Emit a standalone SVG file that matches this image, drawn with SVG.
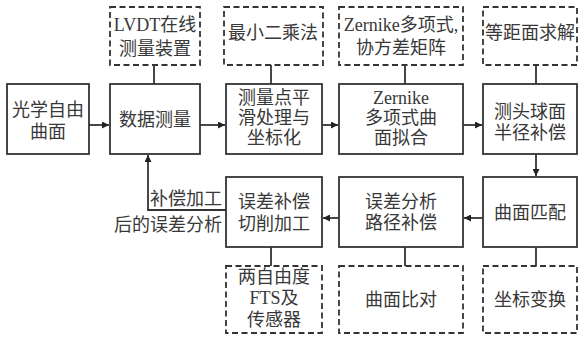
<svg xmlns="http://www.w3.org/2000/svg" width="579" height="338" viewBox="0 0 579 338">
<defs>
<style>
.box{fill:#fff;stroke:#333;stroke-width:1.8}
.dash{fill:#fff;stroke:#333;stroke-width:1.8;stroke-dasharray:6 3.5}
.ln{fill:none;stroke:#333;stroke-width:1.8}
text{font-family:"Liberation Serif","Noto Sans CJK SC",serif;font-size:18px;fill:#383838;text-anchor:middle;dominant-baseline:central}
.r{text-anchor:end}
</style>
<marker id="ah" viewBox="0 0 10 10" refX="10" refY="5" markerWidth="9" markerHeight="7" markerUnits="userSpaceOnUse" orient="auto"><path d="M0,0L10,5L0,10Z" fill="#222"/></marker>
</defs>
<rect width="579" height="338" fill="#fff"/>
<g id="connectors">
<path class="ln" d="M89,125H109" marker-end="url(#ah)"/>
<path class="ln" d="M200,125H225" marker-end="url(#ah)"/>
<path class="ln" d="M322,125H338" marker-end="url(#ah)"/>
<path class="ln" d="M463,125H482" marker-end="url(#ah)"/>
<path class="ln" d="M536,154V176" marker-end="url(#ah)"/>
<path class="ln" d="M483,218H464" marker-end="url(#ah)"/>
<path class="ln" d="M339,218H323" marker-end="url(#ah)"/>
<path class="ln" d="M226,210H148V155" marker-end="url(#ah)"/>
<path class="ln" d="M154,65V84M271,65V84M405,65V84M536,65V84"/>
<path class="ln" d="M271,247V266M405,247V266M536,247V266"/>
</g>
<g id="n1"><rect class="box" x="7" y="84" width="82" height="70"/><text x="48" y="110">光学自由</text><text x="48" y="132">曲面</text></g>
<g id="n2"><rect class="box" x="110" y="84" width="90" height="70"/><text x="155" y="120">数据测量</text></g>
<g id="n3"><rect class="box" x="226" y="84" width="96" height="70"/><text x="274" y="98">测量点平</text><text x="274" y="118">滑处理与</text><text x="274" y="138">坐标化</text></g>
<g id="n4"><rect class="box" x="339" y="84" width="124" height="70"/><text x="401" y="98">Zernike</text><text x="401" y="118">多项式曲</text><text x="401" y="138">面拟合</text></g>
<g id="n5"><rect class="box" x="483" y="84" width="94" height="70"/><text x="530" y="112">测头球面</text><text x="530" y="133">半径补偿</text></g>
<g id="d1"><rect class="dash" x="110" y="7" width="90" height="58"/><text x="155" y="25">LVDT在线</text><text x="155" y="49">测量装置</text></g>
<g id="d2"><rect class="dash" x="224" y="7" width="99" height="58"/><text x="273" y="33">最小二乘法</text></g>
<g id="d3"><rect class="dash" x="339" y="7" width="124" height="58"/><text x="401" y="25">Zernike多项式,</text><text x="401" y="48">协方差矩阵</text></g>
<g id="d4"><rect class="dash" x="483" y="7" width="94" height="58"/><text x="530" y="33">等距面求解</text></g>
<g id="n6"><rect class="box" x="226" y="177" width="96" height="70"/><text x="274" y="202">误差补偿</text><text x="274" y="224">切削加工</text></g>
<g id="n7"><rect class="box" x="339" y="177" width="124" height="70"/><text x="401" y="202">误差分析</text><text x="401" y="223">路径补偿</text></g>
<g id="n8"><rect class="box" x="483" y="177" width="94" height="70"/><text x="530" y="213">曲面匹配</text></g>
<g id="d5"><rect class="dash" x="226" y="266" width="96" height="67"/><text x="274" y="277">两自由度</text><text x="274" y="298">FTS及</text><text x="274" y="320">传感器</text></g>
<g id="d6"><rect class="dash" x="339" y="266" width="124" height="67"/><text x="401" y="300">曲面比对</text></g>
<g id="d7"><rect class="dash" x="483" y="266" width="94" height="67"/><text x="530" y="300">坐标变换</text></g>
<g id="label"><text class="r" x="222" y="199">补偿加工</text><text class="r" x="222" y="225">后的误差分析</text></g>
</svg>
